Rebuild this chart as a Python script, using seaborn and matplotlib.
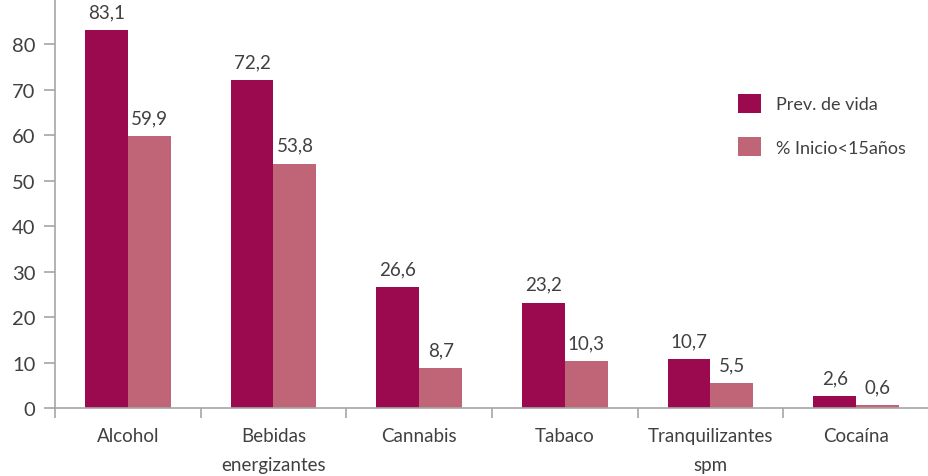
import matplotlib
matplotlib.use("Agg")
import matplotlib.pyplot as plt
import seaborn as sns
import pandas as pd
import numpy as np
from matplotlib.ticker import FixedLocator

categories = ["Alcohol", "Bebidas\nenergizantes", "Cannabis", "Tabaco",
              "Tranquilizantes\nspm", "Cocaína"]
series_names = ["Prev. de vida", "% Inicio<15años"]
prev_vida = [83.1, 72.2, 26.6, 23.2, 10.7, 2.6]
inicio_15 = [59.9, 53.8, 8.7, 10.3, 5.5, 0.6]
y_ticks = [0, 10, 20, 30, 40, 50, 60, 70, 80]

df = pd.DataFrame({
    "categoria": categories * 2,
    "serie": [series_names[0]] * len(categories) + [series_names[1]] * len(categories),
    "valor": prev_vida + inicio_15,
})

sns.set_theme(style="white")
plt.rcParams["font.family"] = ["Lato", "DejaVu Sans"]
text_color = "#404040"
axis_color = "#a6a6a6"
palette = {series_names[0]: "#9b0a4f", series_names[1]: "#c06578"}

fig = plt.figure(figsize=(9.29, 4.77), dpi=100)
ax = fig.add_axes([55 / 929, 68 / 477, 874 / 929, 409 / 477])

sns.barplot(data=df, x="categoria", y="valor", hue="serie", palette=palette,
            width=0.59, saturation=1, gap=0, linewidth=0, ax=ax, legend=True)

for cont in ax.containers:
    ax.bar_label(cont, labels=[f"{v:.1f}".replace(".", ",") for v in cont.datavalues],
                 padding=7, fontsize=13.5, color=text_color)

ax.set_ylim(0, 90)
ax.set_xlim(-0.5, len(categories) - 0.5)
ax.set_yticks(y_ticks)
ax.set_yticklabels([str(t) for t in y_ticks], fontsize=14.5, color=text_color)
ax.set_xticks(range(len(categories)))
ax.set_xticklabels(categories, fontsize=13.5, color=text_color, linespacing=1.8)
ax.xaxis.set_minor_locator(FixedLocator(np.arange(-0.5, len(categories), 1.0)))
ax.tick_params(axis="x", which="major", length=0, pad=14)
ax.tick_params(axis="x", which="minor", length=7, width=1.2, color=axis_color, direction="out", bottom=True)
ax.tick_params(axis="y", which="major", length=8, width=1.2, color=axis_color, direction="out", left=True, pad=6)
ax.set_xlabel("")
ax.set_ylabel("")

for s in ["top", "right"]:
    ax.spines[s].set_visible(False)
for s in ["left", "bottom"]:
    ax.spines[s].set_color(axis_color)
    ax.spines[s].set_linewidth(1.2)

handles, labels = ax.get_legend_handles_labels()
ax.legend(handles, labels, loc="center left", bbox_to_anchor=(722 / 929, 1 - 126 / 477),
          bbox_transform=fig.transFigure, frameon=False, fontsize=13, handlelength=1.25,
          handleheight=1.3, handletextpad=0.85, labelspacing=1.3, labelcolor=text_color)

fig.savefig("out.png", dpi=100)
